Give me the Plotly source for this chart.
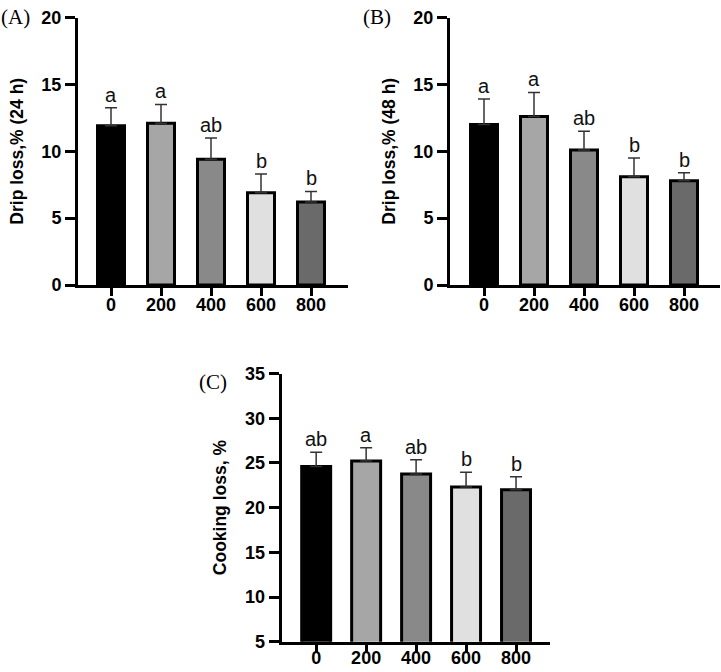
import plotly.graph_objects as go

doses = ["0", "200", "400", "600", "800"]
bar_colors = ["#000000", "#a6a6a6", "#898989", "#e0e0e0", "#6a6a6a"]

drip24_mean = [11.9, 12.1, 9.4, 6.9, 6.2]
drip24_sd = [1.35, 1.4, 1.6, 1.4, 0.8]
drip24_letters = ["a", "a", "ab", "b", "b"]

drip48_mean = [12.0, 12.6, 10.1, 8.1, 7.8]
drip48_sd = [1.9, 1.8, 1.4, 1.4, 0.6]
drip48_letters = ["a", "a", "ab", "b", "b"]

cook_mean = [24.6, 25.2, 23.75, 22.3, 22.0]
cook_sd = [1.6, 1.5, 1.6, 1.65, 1.45]
cook_letters = ["ab", "a", "ab", "b", "b"]

W, H = 721, 672

panels = [
    dict(mean=drip24_mean, sd=drip24_sd, letters=drip24_letters, title="Drip loss,% (24 h)",
         px=(78, 348), py=(17.5, 285), yrange=[0, 20], dtick=5, xr=[-0.66, 4.74], bw=0.54,
         label="(A)", lx=0, ly=17, so=-7),
    dict(mean=drip48_mean, sd=drip48_sd, letters=drip48_letters, title="Drip loss,% (48 h)",
         px=(450, 720), py=(17.5, 285), yrange=[0, 20], dtick=5, xr=[-0.68, 4.72], bw=0.54,
         label="(B)", lx=362, ly=17, so=-7),
    dict(mean=cook_mean, sd=cook_sd, letters=cook_letters, title="Cooking loss, %",
         px=(281.7, 550), py=(373.5, 641.7), yrange=[5, 35], dtick=5, xr=[-0.69, 4.68], bw=0.58,
         label="(C)", lx=198, ly=382, so=-10),
]

fig = go.Figure()
annotations = []
layout = {}
tickfont = dict(family="Liberation Sans, Arial", size=18, color="#000000", weight="bold")
for i, p in enumerate(panels):
    n = "" if i == 0 else str(i + 1)
    xa, ya = "x" + n, "y" + n
    fig.add_trace(go.Bar(
        x=list(range(len(doses))), y=p["mean"], xaxis=xa, yaxis=ya, width=p["bw"],
        marker=dict(color=bar_colors, line=dict(color="#000000", width=3)),
        error_y=dict(type="data", array=p["sd"], arrayminus=[0] * 5, symmetric=False,
                     color="#333333", thickness=1.5, width=6),
        showlegend=False, hoverinfo="skip",
    ))
    for k, (m, s, t) in enumerate(zip(p["mean"], p["sd"], p["letters"])):
        annotations.append(dict(x=k, y=m + s, xref=xa, yref=ya, text=t, showarrow=False,
                                yanchor="bottom", yshift=0,
                                font=dict(family="Liberation Sans, Arial", size=20, color="#111111")))
    annotations.append(dict(x=p["lx"] / W, y=1 - p["ly"] / H, xref="paper", yref="paper",
                            text=p["label"], showarrow=False, xanchor="left", yanchor="middle",
                            borderpad=0,
                            font=dict(family="Liberation Serif, serif", size=21, color="#000000")))
    axis_common = dict(showline=True, linecolor="#000000", linewidth=3, ticks="outside",
                       tickwidth=3, tickcolor="#000000", showgrid=False, zeroline=False,
                       automargin=False, tickfont=tickfont)
    layout["xaxis" + n] = dict(domain=[p["px"][0] / W, p["px"][1] / W], anchor=ya,
                               range=p["xr"], tickmode="array",
                               tickvals=list(range(len(doses))), ticktext=doses,
                               ticklen=8, ticklabelstandoff=p["so"], **axis_common)
    layout["yaxis" + n] = dict(domain=[1 - p["py"][1] / H, 1 - p["py"][0] / H], anchor=xa,
                               range=p["yrange"], dtick=p["dtick"], ticklen=10,
                               title=dict(text=p["title"], standoff=14,
                                          font=dict(family="Liberation Sans, Arial", size=17.5,
                                                    color="#000000", weight="bold")),
                               **axis_common)

fig.update_layout(
    width=W, height=H, margin=dict(l=0, r=0, t=0, b=0),
    paper_bgcolor="white", plot_bgcolor="white",
    annotations=annotations,
    **layout,
)
fig.write_html("out.html", config={"displayModeBar": False},
               post_script="document.body.style.margin='0px';")
